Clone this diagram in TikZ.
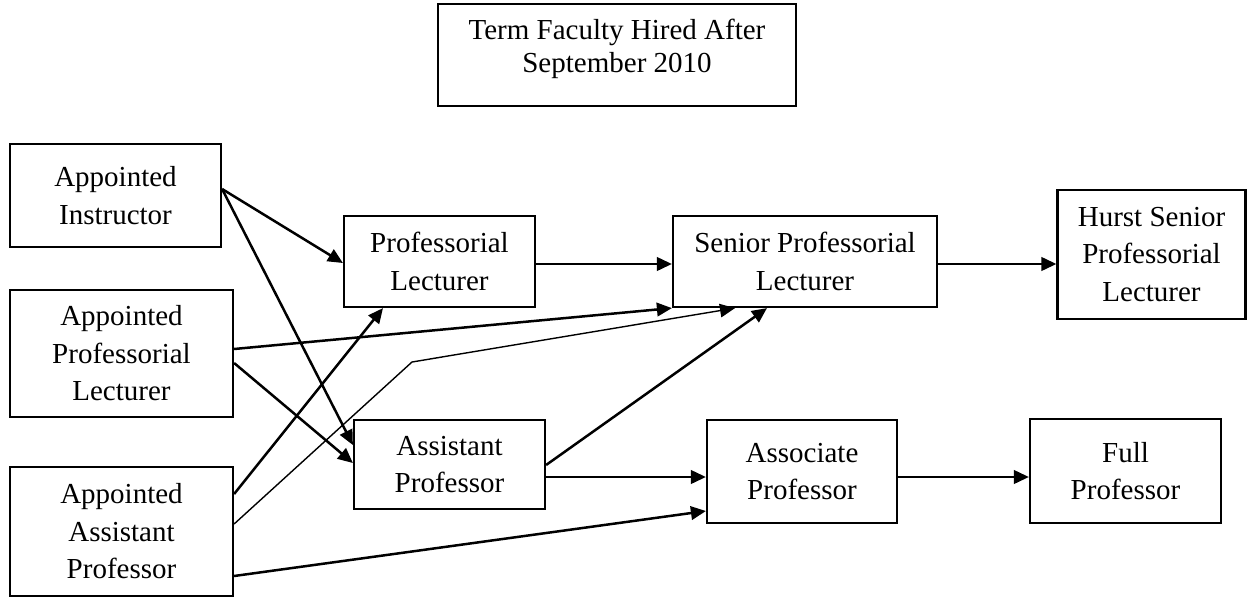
\documentclass[tikz,border=0pt]{standalone}
\usepackage{fontspec}
\setmainfont{Liberation Serif}
\usetikzlibrary{arrows.meta,calc}
\tikzset{
  box/.style={draw, line width=2.2pt, inner sep=0pt, align=center,
    font=\fontsize{29}{37.5}\selectfont},
  conn/.style={line width=2.5pt, -{Triangle[length=15pt,width=13.5pt]}},
  thinconn/.style={line width=1.4pt, -{Triangle[length=15pt,width=13.5pt]}}
}
\begin{document}
\begin{tikzpicture}[x=1pt,y=-1pt]
\useasboundingbox (0,0) rectangle (1249,599);
\node[box, minimum width=358pt, minimum height=102pt] (title) at (617,55)
  {\raisebox{6pt}[\height][\depth]{\begin{tabular}{@{}c@{}}Term Faculty Hired After\\[-4.5pt]September 2010\end{tabular}}};
\node[box, minimum width=211pt, minimum height=103pt] (ins) at (115.5,195.5) {Appointed\\Instructor};
\node[box, minimum width=223pt, minimum height=127pt] (apl) at (121.5,353.5) {Appointed\\Professorial\\Lecturer};
\node[box, minimum width=223pt, minimum height=129pt] (aap) at (121.5,531.5) {Appointed\\Assistant\\Professor};
\node[box, minimum width=191pt, minimum height=91pt] (pl) at (439.5,261.5) {Professorial\\Lecturer};
\node[box, minimum width=264pt, minimum height=91pt] (spl) at (805,261.5) {Senior Professorial\\Lecturer};
\node[box, minimum width=188pt, minimum height=129pt] (hurst) at (1151.5,254.5) {Hurst Senior\\Professorial\\Lecturer};
\node[box, minimum width=191pt, minimum height=89pt] (ap) at (449.5,464.5) {Assistant\\Professor};
\node[box, minimum width=190pt, minimum height=103pt] (assoc) at (802,471.5) {Associate\\Professor};
\node[box, minimum width=191pt, minimum height=104pt] (full) at (1125.5,471) {Full\\Professor};
\coordinate (bend) at (412,362);
% from Appointed Instructor
\draw[conn] ($(ins.east)+(0,-6.5)$) -- ($(pl.west)+(0,1.5)$);
\draw[conn] ($(ins.east)+(0,-6.5)$) -- ($(ap.west)+(0,-19.5)$);
% from Appointed Professorial Lecturer
\draw[conn] ($(apl.east)+(0,-4.5)$) -- (spl.south west);
\draw[conn] ($(apl.east)+(0,9.5)$) -- ($(ap.west)+(0,-1.5)$);
% from Appointed Assistant Professor
\draw[conn] ($(aap.east)+(0,-37.5)$) -- ($(pl.south)+(-56.5,0)$);
\draw[thinconn] ($(aap.east)+(0,-7.5)$) -- (bend) -- ($(spl.south)+(-70,0)$);
\draw[conn] ($(aap.east)+(0,44.5)$) -- ($(assoc.west)+(0,39.5)$);
% main chain
\draw[conn] ($(pl.east)+(0,2.5)$) -- ($(spl.west)+(0,2.5)$);
\draw[conn] ($(spl.east)+(0,2.5)$) -- ($(hurst.west)+(0,9.5)$);
\draw[conn] ($(ap.east)+(0,0.5)$) -- ($(spl.south)+(-38,0)$);
\draw[conn] ($(ap.east)+(0,12.5)$) -- ($(assoc.west)+(0,5.5)$);
\draw[conn] ($(assoc.east)+(0,5.5)$) -- ($(full.west)+(0,6)$);
\end{tikzpicture}
\end{document}
